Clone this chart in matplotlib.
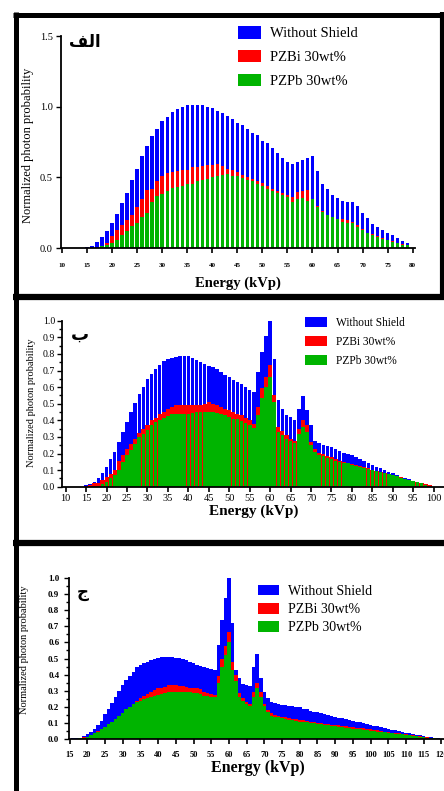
import matplotlib
matplotlib.use("Agg")
import matplotlib.pyplot as plt
from matplotlib.lines import Line2D
from matplotlib.ticker import MultipleLocator

W, H = 444, 791

LABELS = ["Without Shield", "PZBi 30wt%", "PZPb 30wt%"]
COLORS = ["#0000ff", "#ff0000", "#00b400"]

# panel A (80 kVp), bins 15..79
E_A = list(range(15, 80))
BLUE_A = [0.01, 0.017, 0.04, 0.08, 0.12, 0.18, 0.24, 0.315, 0.39, 0.48,
          0.56, 0.65, 0.725, 0.79, 0.845, 0.90, 0.93, 0.96, 0.98, 1.0,
          1.01, 1.01, 1.01, 1.01, 1.0, 0.99, 0.97, 0.955, 0.935, 0.91,
          0.885, 0.867, 0.839, 0.815, 0.796, 0.76, 0.74, 0.71, 0.675, 0.635,
          0.605, 0.592, 0.609, 0.623, 0.64, 0.654, 0.547, 0.453, 0.417, 0.377,
          0.355, 0.332, 0.325, 0.325, 0.294, 0.246, 0.21, 0.168, 0.152, 0.128,
          0.109, 0.092, 0.069, 0.052, 0.038]
RED_A = [0.0, 0.0, 0.0, 0.01, 0.035, 0.085, 0.128, 0.163, 0.2, 0.237,
         0.29, 0.348, 0.407, 0.42, 0.476, 0.507, 0.53, 0.54, 0.547, 0.555,
         0.555, 0.573, 0.573, 0.58, 0.588, 0.59, 0.597, 0.578, 0.562, 0.552,
         0.538, 0.52, 0.505, 0.488, 0.474, 0.457, 0.438, 0.42, 0.405, 0.389,
         0.374, 0.36, 0.393, 0.40, 0.408, 0.35, 0.3, 0.26, 0.235, 0.22,
         0.206, 0.206, 0.197, 0.187, 0.166, 0.137, 0.109, 0.1, 0.088, 0.071,
         0.059, 0.047, 0.038, 0.028, 0.019]
GREEN_A = [0.0, 0.0, 0.0, 0.014, 0.02, 0.033, 0.057, 0.09, 0.12, 0.156,
           0.18, 0.216, 0.246, 0.322, 0.365, 0.384, 0.405, 0.422, 0.431, 0.44,
           0.453, 0.455, 0.474, 0.479, 0.486, 0.502, 0.512, 0.519, 0.521, 0.512,
           0.507, 0.495, 0.483, 0.474, 0.455, 0.438, 0.42, 0.405, 0.389, 0.374,
           0.358, 0.327, 0.344, 0.353, 0.336, 0.346, 0.289, 0.254, 0.235, 0.22,
           0.204, 0.185, 0.178, 0.175, 0.152, 0.128, 0.104, 0.092, 0.081, 0.064,
           0.055, 0.045, 0.033, 0.024, 0.019]

# panel B (100 kVp), bins 15..99
E_B = list(range(15, 100))
BLUE_B = [0.008, 0.014, 0.028, 0.054, 0.082, 0.118, 0.169, 0.211, 0.269, 0.327,
          0.388, 0.452, 0.504, 0.558, 0.602, 0.647, 0.681, 0.707, 0.733, 0.757,
          0.769, 0.777, 0.783, 0.785, 0.785, 0.785, 0.773, 0.761, 0.751, 0.739,
          0.729, 0.72, 0.71, 0.69, 0.675, 0.66, 0.645, 0.633, 0.618, 0.60,
          0.585, 0.57, 0.69, 0.81, 0.91, 1.0, 0.77, 0.52, 0.47, 0.43,
          0.42, 0.40, 0.47, 0.545, 0.46, 0.37, 0.275, 0.265, 0.252, 0.243,
          0.237, 0.225, 0.217, 0.205, 0.197, 0.189, 0.177, 0.165, 0.155, 0.14,
          0.128, 0.12, 0.11, 0.1, 0.09, 0.08, 0.07, 0.06, 0.054, 0.044,
          0.036, 0.03, 0.022, 0.016, 0.01]
RED_B = [0.005, 0.01, 0.02, 0.024, 0.038, 0.06, 0.075, 0.10, 0.155, 0.19,
         0.227, 0.26, 0.287, 0.325, 0.35, 0.37, 0.40, 0.415, 0.435, 0.45,
         0.47, 0.48, 0.49, 0.492, 0.492, 0.492, 0.492, 0.492, 0.495, 0.50,
         0.508, 0.50, 0.49, 0.48, 0.47, 0.46, 0.45, 0.44, 0.43, 0.415,
         0.40, 0.38, 0.48, 0.596, 0.663, 0.733, 0.552, 0.36, 0.335, 0.31,
         0.29, 0.275, 0.35, 0.40, 0.37, 0.27, 0.23, 0.205, 0.195, 0.185,
         0.177, 0.165, 0.157, 0.151, 0.145, 0.137, 0.13, 0.124, 0.117, 0.11,
         0.103, 0.096, 0.089, 0.083, 0.077, 0.07, 0.063, 0.056, 0.049, 0.042,
         0.035, 0.028, 0.021, 0.014, 0.008]
GREEN_B = [0.0, 0.0, 0.0, 0.004, 0.014, 0.03, 0.054, 0.07, 0.10, 0.15,
           0.19, 0.22, 0.257, 0.297, 0.32, 0.34, 0.37, 0.387, 0.40, 0.415,
           0.425, 0.435, 0.44, 0.44, 0.44, 0.44, 0.445, 0.447, 0.447, 0.447,
           0.447, 0.447, 0.445, 0.44, 0.43, 0.42, 0.41, 0.405, 0.395, 0.385,
           0.37, 0.355, 0.43, 0.536, 0.60, 0.663, 0.51, 0.33, 0.31, 0.29,
           0.275, 0.265, 0.32, 0.36, 0.33, 0.25, 0.21, 0.19, 0.182, 0.174,
           0.165, 0.157, 0.15, 0.145, 0.14, 0.13, 0.125, 0.118, 0.112, 0.105,
           0.099, 0.093, 0.086, 0.08, 0.074, 0.068, 0.062, 0.055, 0.048, 0.041,
           0.034, 0.027, 0.02, 0.013, 0.007]

# panel C (120 kVp), bins 16..119
E_C = list(range(16, 120))
BLUE_C = [0.006, 0.006, 0.01, 0.023, 0.033, 0.043, 0.062, 0.09, 0.115, 0.157,
          0.19, 0.227, 0.264, 0.30, 0.336, 0.367, 0.392, 0.419, 0.445, 0.46,
          0.47, 0.48, 0.49, 0.50, 0.505, 0.507, 0.507, 0.507, 0.507, 0.505,
          0.503, 0.50, 0.49, 0.48, 0.47, 0.46, 0.455, 0.445, 0.44, 0.433,
          0.43, 0.583, 0.738, 0.872, 1.0, 0.72, 0.43, 0.38, 0.345, 0.335,
          0.33, 0.45, 0.53, 0.38, 0.29, 0.254, 0.233, 0.225, 0.22, 0.215,
          0.21, 0.206, 0.203, 0.2, 0.197, 0.19, 0.185, 0.178, 0.172, 0.166,
          0.16, 0.155, 0.15, 0.143, 0.138, 0.133, 0.129, 0.125, 0.12, 0.115,
          0.11, 0.105, 0.1, 0.095, 0.09, 0.085, 0.08, 0.075, 0.07, 0.065,
          0.06, 0.055, 0.05, 0.046, 0.042, 0.037, 0.033, 0.028, 0.024, 0.02,
          0.016, 0.012, 0.008, 0.005]
RED_C = [0.003, 0.003, 0.008, 0.012, 0.016, 0.027, 0.037, 0.05, 0.064, 0.078,
         0.095, 0.11, 0.126, 0.14, 0.157, 0.18, 0.2, 0.22, 0.24, 0.254,
         0.268, 0.28, 0.295, 0.305, 0.315, 0.32, 0.326, 0.334, 0.334, 0.334,
         0.332, 0.33, 0.326, 0.32, 0.318, 0.315, 0.31, 0.29, 0.285, 0.28,
         0.275, 0.39, 0.495, 0.577, 0.666, 0.48, 0.40, 0.285, 0.258, 0.233,
         0.22, 0.295, 0.346, 0.295, 0.22, 0.18, 0.16, 0.153, 0.147, 0.14,
         0.136, 0.132, 0.128, 0.124, 0.12, 0.117, 0.113, 0.11, 0.106, 0.103,
         0.1, 0.097, 0.094, 0.091, 0.089, 0.086, 0.083, 0.08, 0.077, 0.074,
         0.072, 0.069, 0.067, 0.064, 0.062, 0.058, 0.055, 0.052, 0.048, 0.045,
         0.042, 0.039, 0.036, 0.034, 0.031, 0.028, 0.025, 0.022, 0.019, 0.016,
         0.013, 0.01, 0.007, 0.004]
GREEN_C = [0.002, 0.002, 0.006, 0.01, 0.016, 0.027, 0.037, 0.047, 0.062, 0.074,
           0.095, 0.11, 0.126, 0.144, 0.165, 0.186, 0.2, 0.218, 0.229, 0.24,
           0.25, 0.256, 0.264, 0.27, 0.274, 0.278, 0.285, 0.29, 0.293, 0.293,
           0.293, 0.293, 0.29, 0.29, 0.287, 0.285, 0.283, 0.27, 0.265, 0.262,
           0.26, 0.35, 0.45, 0.52, 0.604, 0.43, 0.36, 0.264, 0.24, 0.22,
           0.206, 0.264, 0.315, 0.264, 0.206, 0.17, 0.146, 0.14, 0.135, 0.13,
           0.126, 0.122, 0.118, 0.114, 0.11, 0.107, 0.104, 0.101, 0.098, 0.095,
           0.093, 0.09, 0.087, 0.084, 0.08, 0.077, 0.074, 0.072, 0.069, 0.066,
           0.064, 0.061, 0.059, 0.056, 0.054, 0.051, 0.048, 0.046, 0.043, 0.041,
           0.038, 0.035, 0.033, 0.03, 0.027, 0.025, 0.022, 0.02, 0.017, 0.014,
           0.011, 0.008, 0.006, 0.003]

# Arabic panel tags, written in presentation forms so they show joined
TAG_A = "\ufed2\ufedf\ufe8d"   # الف
TAG_B = "\u0628"               # ب
TAG_C = "\u062c"               # ج

plt.rcParams["font.family"] = "serif"
plt.rcParams["font.serif"] = ["Liberation Serif", "DejaVu Serif"]


def fx(x):
    return x / W


def fy(y):
    return 1 - y / H


def make_axes(fig, left, right, top, bottom):
    return fig.add_axes([fx(left), fy(bottom), (right - left) / W, (bottom - top) / H])


def frame_line(fig, x0, y0, x1, y1, lw):
    fig.add_artist(Line2D([fx(x0), fx(x1)], [fy(y0), fy(y1)], color="black",
                          lw=lw, transform=fig.transFigure, solid_capstyle="butt"))


def draw_panel(ax, energies, series, widths, xlim, ylim, cfg):
    for vals, color, label, w, z in zip(series, COLORS, LABELS, widths, [1, 2, 3]):
        ax.bar(energies, vals, width=w, color=color, label=label, linewidth=0, zorder=z)
    ax.set_xlim(*xlim)
    ax.set_ylim(*ylim)
    for side in ["top", "right"]:
        ax.spines[side].set_visible(False)
    for side in ["left", "bottom"]:
        ax.spines[side].set_linewidth(1.3)
        ax.spines[side].set_zorder(5)
    ax.xaxis.set_major_locator(MultipleLocator(5))
    ax.yaxis.set_major_locator(MultipleLocator(cfg["ystep"]))
    if cfg.get("yminor"):
        ax.yaxis.set_minor_locator(MultipleLocator(cfg["yminor"]))
        ax.tick_params(axis="y", which="minor", length=2.5, width=1.0, direction="out")
    ax.tick_params(axis="y", which="major", length=3.5, width=1.0, pad=cfg["ypad"],
                   labelsize=cfg["ysize"])
    ax.tick_params(axis="x", which="major", length=3.5, width=1.2, pad=cfg["xpad"],
                   labelsize=cfg["xsize"])
    ax.yaxis.set_major_formatter(plt.FormatStrFormatter("%.1f"))
    for t in ax.get_xticklabels():
        t.set_fontweight(cfg["xweight"])
    for t in ax.get_yticklabels():
        t.set_fontweight(cfg["yweight"])
    ax.set_xlabel("Energy (kVp)", fontsize=cfg["xlab_size"], fontweight="bold")
    ax.xaxis.label.set_verticalalignment("center")
    ax.xaxis.set_label_coords(*cfg["xlab_pos"])
    ax.set_ylabel("Normalized photon probability", fontsize=cfg["ylab_size"])
    ax.yaxis.label.set_verticalalignment("center")
    ax.yaxis.set_label_coords(*cfg["ylab_pos"])
    ax.patch.set_alpha(0)


fig = plt.figure(figsize=(W / 100, H / 100), dpi=100)

# panel A
ax1 = make_axes(fig, 61, 414.5, 36, 248)
draw_panel(ax1, E_A, [BLUE_A, RED_A, GREEN_A], [0.68, 0.68, 0.68], (9.8, 80.36), (0, 1.5),
           dict(ystep=0.5, ypad=2.5, ysize=7.5, xpad=7, xsize=5, xweight="bold", yweight="normal",
                xlab_size=10.5, xlab_pos=(0.5, (248 - 283) / 212),
                ylab_size=9, ylab_pos=((28 - 61) / 353.5, (248 - 145) / 212)))
ax1.legend(loc="upper left", bbox_to_anchor=(fx(238), fy(26)), bbox_transform=fig.transFigure,
           frameon=False, fontsize=10.5, handlelength=1.58, handleheight=0.95,
           handletextpad=0.62, labelspacing=0.65, borderpad=0, borderaxespad=0)
fig.text(fx(85), fy(42), TAG_A, family="DejaVu Sans", fontweight="bold", fontsize=12,
         ha="center", va="center")

# panel B
ax2 = make_axes(fig, 62, 446, 320.7, 486.7)
draw_panel(ax2, E_B, [BLUE_B, RED_B, GREEN_B], [0.85, 1.0, 0.88], (9.1, 103.0), (0, 1.0),
           dict(ystep=0.1, yminor=0.05, ypad=1.5, ysize=7, xpad=1.5, xsize=7.5, xweight="normal",
                yweight="normal", xlab_size=11, xlab_pos=(0.5, (486.7 - 511) / 166),
                ylab_size=7.5, ylab_pos=((32 - 62) / 384, (486.7 - 403) / 166)))
ax2.legend(loc="upper left", bbox_to_anchor=(fx(305), fy(317)), bbox_transform=fig.transFigure,
           frameon=False, fontsize=8.3, handlelength=1.9, handleheight=0.95,
           handletextpad=0.78, labelspacing=0.62, borderpad=0, borderaxespad=0)
fig.text(fx(80), fy(335), TAG_B, family="DejaVu Sans", fontweight="bold", fontsize=13,
         ha="center", va="center")

# panel C
ax3 = make_axes(fig, 69, 446, 577.7, 739.3)
draw_panel(ax3, E_C, [BLUE_C, RED_C, GREEN_C], [1.0, 1.0, 1.0], (14.83, 121.3), (0, 1.0),
           dict(ystep=0.1, yminor=0.05, ypad=3.5, ysize=6.5, xpad=5, xsize=6, xweight="bold",
                yweight="bold", xlab_size=11.5, xlab_pos=(0.5, (739.3 - 768) / 161.6),
                ylab_size=7.5, ylab_pos=((25 - 69) / 377, (739.3 - 650) / 161.6)))
ax3.legend(loc="upper left", bbox_to_anchor=(fx(258), fy(585)), bbox_transform=fig.transFigure,
           frameon=False, fontsize=10, handlelength=1.5, handleheight=0.77,
           handletextpad=0.65, labelspacing=0.37, borderpad=0, borderaxespad=0)
fig.text(fx(83), fy(592), TAG_C, family="DejaVu Sans", fontweight="bold", fontsize=12,
         ha="center", va="center")

# black frames round the three panels
frame_line(fig, 13, 14.5, 444, 14.5, 3.6)
frame_line(fig, 15.5, 12, 15.5, 791, 3.6)
frame_line(fig, 441.5, 12, 441.5, 297, 3.0)
frame_line(fig, 13, 296.5, 444, 296.5, 4.5)
frame_line(fig, 13, 542.5, 444, 542.5, 4.5)

fig.savefig("out.png", dpi=100)
